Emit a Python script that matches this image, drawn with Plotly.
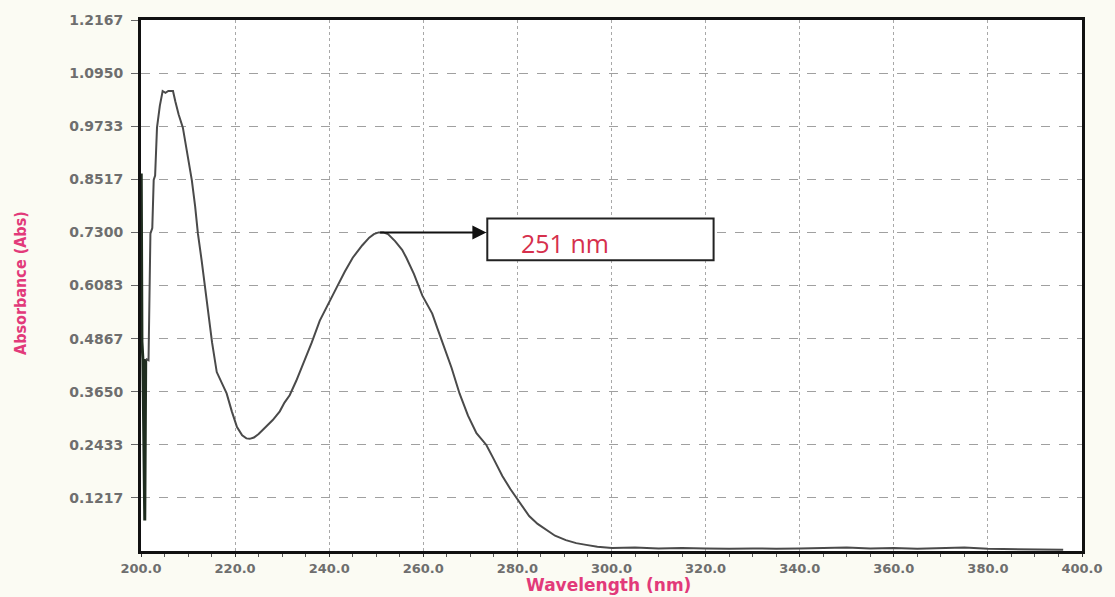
import plotly.graph_objects as go

# ---- data ----
# noisy start of the scan (detector noise near 200 nm)
start_wl = [200.05, 200.2, 200.4, 200.6, 200.8, 201.0]
start_abs = [0.865, 0.48, 0.44, 0.16, 0.07, 0.44]

# main spectrum
wavelength = [
    201.0, 201.6, 202.0, 202.4, 202.7, 203.0, 203.4, 204.0, 204.6, 205.2,
    205.8, 206.8, 207.3, 208.0, 208.9, 209.8, 210.8, 211.5, 212.1, 212.9,
    213.6, 214.4, 215.1, 216.1, 217.2, 218.2, 219.3, 220.4, 221.5, 222.4,
    223.1, 224.0, 225.0, 225.9, 227.0, 228.0, 229.5, 230.5, 231.6, 233.0,
    234.5, 236.3, 238.0, 239.0, 240.1, 241.6, 243.3, 245.0, 247.0, 248.5,
    249.5, 250.5, 251.5, 252.5, 254.0, 255.5, 256.4, 258.0, 259.8, 261.0,
    261.9, 263.0, 264.1, 266.0, 267.7, 269.5, 271.3, 273.4, 275.0, 276.8,
    278.5, 280.0, 282.5, 284.3, 286.1, 288.0, 290.3, 292.5, 294.6, 297.0,
    300.1, 305.0, 310.0, 315.0, 320.0, 325.0, 330.0, 335.0, 340.0, 345.0,
    350.0, 355.0, 360.0, 365.0, 370.0, 375.0, 380.0, 385.0, 390.0, 396.0,
]
absorbance = [
    0.44, 0.437, 0.727, 0.74, 0.85, 0.86, 0.97, 1.02, 1.054, 1.050,
    1.054, 1.054, 1.03, 1.00, 0.97, 0.91, 0.85, 0.79, 0.727, 0.665,
    0.604, 0.54, 0.478, 0.41, 0.385, 0.361, 0.32, 0.284, 0.265, 0.258,
    0.257, 0.26, 0.268, 0.277, 0.29, 0.30, 0.32, 0.34, 0.357, 0.39,
    0.43, 0.478, 0.528, 0.55, 0.574, 0.604, 0.64, 0.672, 0.70, 0.718,
    0.726, 0.73, 0.73, 0.726, 0.71, 0.69, 0.672, 0.635, 0.585, 0.56,
    0.544, 0.51, 0.478, 0.42, 0.361, 0.31, 0.27, 0.243, 0.21, 0.172,
    0.142, 0.118, 0.08, 0.062, 0.048, 0.035, 0.025, 0.018, 0.014, 0.010,
    0.007, 0.008, 0.006, 0.007, 0.006, 0.005, 0.006, 0.005, 0.006, 0.007,
    0.008, 0.006, 0.007, 0.005, 0.006, 0.008, 0.005, 0.004, 0.003, 0.003,
]

x_ticks = [200, 220, 240, 260, 280, 300, 320, 340, 360, 380, 400]
x_tick_text = ["200.0", "220.0", "240.0", "260.0", "280.0", "300.0",
               "320.0", "340.0", "360.0", "380.0", "400.0"]
y_ticks = [0.12167, 0.24333, 0.365, 0.48667, 0.60833, 0.73, 0.85167,
           0.97333, 1.095, 1.2167]
y_tick_text = ["0.1217", "0.2433", "0.3650", "0.4867", "0.6083", "0.7300",
               "0.8517", "0.9733", "1.0950", "1.2167"]

peak_wl = 251
peak_abs = 0.73
label_text = "251 nm"

pink = "#e23a7a"
y_tick_font = dict(family="DejaVu Sans", size=14, color="#6e6e6e", weight="bold")
x_tick_font = dict(family="DejaVu Sans", size=13, color="#6e6e6e", weight="bold")

fig = go.Figure()
fig.add_trace(go.Scatter(x=start_wl, y=start_abs, mode="lines",
                         line=dict(color="#1f2d1f", width=3), hoverinfo="skip"))
fig.add_trace(go.Scatter(x=wavelength, y=absorbance, mode="lines",
                         line=dict(color="#4a4a4a", width=2)))

# arrow from the peak to the label box
fig.add_annotation(x=273.4, y=peak_abs, ax=peak_wl - 0.5, ay=peak_abs,
                   xref="x", yref="y", axref="x", ayref="y", text="",
                   showarrow=True, arrowhead=2, arrowsize=1.4, arrowwidth=2,
                   arrowcolor="#111111", standoff=0, startstandoff=0)
# label box
fig.add_shape(type="rect", x0=273.6, x1=321.7, y0=0.666, y1=0.762,
              xref="x", yref="y", line=dict(color="#222222", width=2),
              fillcolor="white", layer="above")
fig.add_annotation(x=280.4, y=0.706, xref="x", yref="y", text=label_text,
                   showarrow=False, xanchor="left", yanchor="middle",
                   font=dict(family="Open Sans", size=25, color="#d6304d"))

# axis titles
fig.add_annotation(x=0.497, y=-0.064, xref="paper", yref="paper",
                   text="Wavelength (nm)", showarrow=False,
                   xanchor="center", yanchor="middle",
                   font=dict(family="DejaVu Sans", size=17, color=pink,
                             weight="bold"))
fig.add_annotation(x=-0.128, y=0.504, xref="paper", yref="paper",
                   text="Absorbance (Abs)", showarrow=False, textangle=-90,
                   xanchor="center", yanchor="middle",
                   font=dict(family="DejaVu Sans Condensed, Liberation Sans Narrow, DejaVu Sans, sans-serif",
                             size=16, color=pink, weight="bold"))

fig.update_layout(
    width=1115, height=597,
    margin=dict(l=141, r=31, t=19, b=46),
    paper_bgcolor="#fbfbf3",
    plot_bgcolor="white",
    showlegend=False,
    xaxis=dict(range=[200, 400], tickvals=x_ticks, ticktext=x_tick_text,
               tickfont=x_tick_font, ticks="outside", ticklen=3,
               tickcolor="#333333", ticklabelstandoff=0,
               showgrid=True, gridcolor="#a8a8a8", griddash="dot",
               gridwidth=1.3,
               minor=dict(dtick=5, tick0=200, ticks="outside", ticklen=3,
                          tickcolor="#555555", showgrid=False),
               showline=True, linecolor="#111111", linewidth=3, mirror=True,
               zeroline=False),
    yaxis=dict(range=[0, 1.2167], tickvals=y_ticks, ticktext=y_tick_text,
               tickfont=y_tick_font, ticks="outside", ticklen=7,
               tickcolor="#666666", ticklabelstandoff=5,
               showgrid=True, gridcolor="#a0a0a0", griddash="dash",
               gridwidth=1.2,
               showline=True, linecolor="#111111", linewidth=3, mirror=True,
               zeroline=False),
)

fig.write_html("out.html", config={"displayModeBar": False},
               post_script="document.body.style.margin='0';document.body.style.overflow='hidden';")
